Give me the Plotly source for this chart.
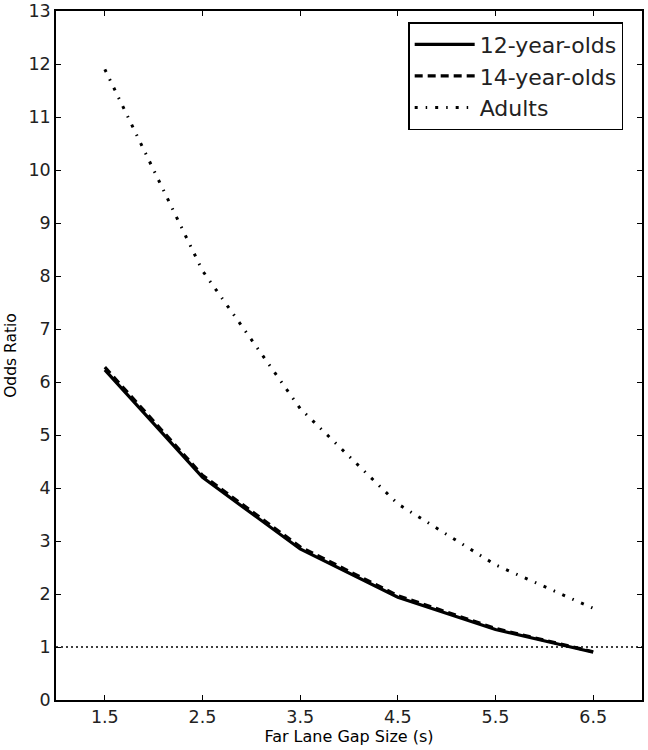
import plotly.graph_objects as go

gap_sizes = [1.5, 2.5, 3.5, 4.5, 5.5, 6.5]
odds_12 = [6.23, 4.20, 2.85, 1.94, 1.33, 0.90]
odds_14 = [6.28, 4.24, 2.89, 1.97, 1.35, 0.91]
odds_adults = [11.90, 8.10, 5.50, 3.70, 2.55, 1.73]
ref_value = 1.0

FONT = "DejaVu Sans"

fig = go.Figure()
fig.add_trace(go.Scatter(x=gap_sizes, y=odds_12, mode="lines", name="12-year-olds",
                         line=dict(color="black", width=3.2, dash="solid")))
fig.add_trace(go.Scatter(x=gap_sizes, y=odds_14, mode="lines", name="14-year-olds",
                         line=dict(color="black", width=3.2, dash="8px,5px")))
fig.add_trace(go.Scatter(x=gap_sizes, y=odds_adults, mode="lines", name="Adults",
                         line=dict(color="black", width=3, dash="3px,8px,1.5px,8px")))

fig.add_shape(type="line", xref="paper", x0=0, x1=1, yref="y", y0=ref_value, y1=ref_value,
              line=dict(color="black", width=1.5, dash="2px,3px"))

fig.update_layout(
    width=648, height=750,
    margin=dict(l=56, r=6, t=11, b=50),
    paper_bgcolor="white", plot_bgcolor="white",
    font=dict(family=FONT, color="black", size=16),
    showlegend=True,
    legend=dict(x=0.601, y=0.984, xanchor="left", yanchor="top",
                bgcolor="white", bordercolor="black", borderwidth=1.5,
                font=dict(family=FONT, size=22, color="#222"),
                itemwidth=60, tracegroupgap=0),
    xaxis=dict(range=[1, 7], tickvals=gap_sizes, ticktext=[str(v) for v in gap_sizes],
               ticks="inside", ticklen=5, tickcolor="black", mirror="allticks",
               showline=True, linecolor="black", linewidth=1.5, showgrid=False, zeroline=False,
               automargin=False,
               title=dict(text="Far Lane Gap Size (s)", font=dict(size=16), standoff=2),
               tickfont=dict(size=17.5, color="#222")),
    yaxis=dict(range=[0, 13], tickvals=list(range(0, 14)),
               ticks="inside", ticklen=5, tickcolor="black", mirror="allticks",
               showline=True, linecolor="black", linewidth=1.5, showgrid=False, zeroline=False,
               automargin=False,
               title=dict(text="Odds Ratio", font=dict(size=15.5), standoff=8),
               tickfont=dict(size=17.5, color="#222")),
)

fig.write_html("out.html", config={"displayModeBar": False},
               post_script="document.body.style.margin='0';document.body.style.overflow='hidden';")
